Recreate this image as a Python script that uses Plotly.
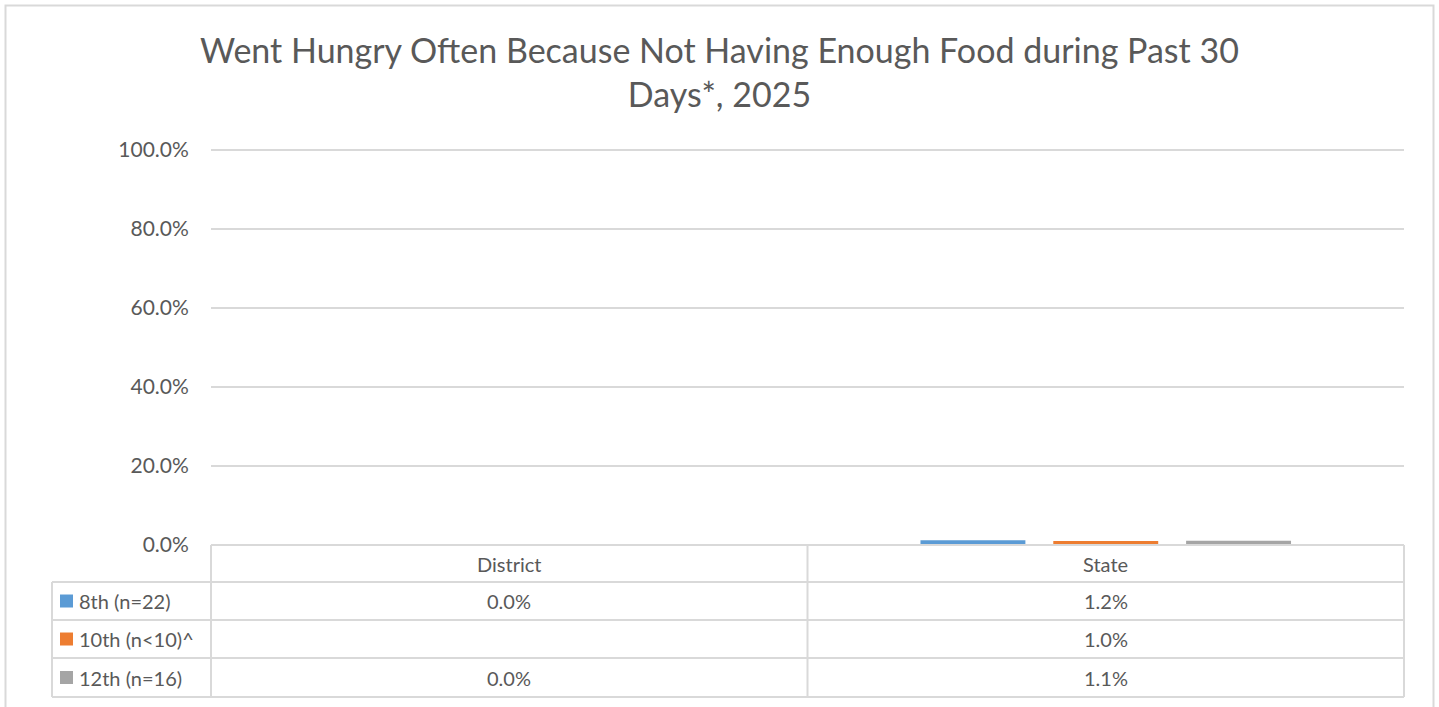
import plotly.graph_objects as go

categories = ["District", "State"]
series_names = ["8th (n=22)", "10th (n<10)^", "12th (n=16)"]
values_8th = [0.0, 0.012]
values_10th = [None, 0.010]
values_12th = [0.0, 0.011]
series_values = [values_8th, values_10th, values_12th]
colors = ["#5B9BD5", "#ED7D31", "#A5A5A5"]
y_ticks = [0, 0.2, 0.4, 0.6, 0.8, 1.0]

TEXT = "#595959"
GRID = "#D9D9D9"
FONT = "Lato"

W, H = 1439, 707
YMAX = 1.01
L, R, B = 211, 1404, 545  # plot area in px
T = B - 395 * YMAX


def px_x(p):
    return (p - L) / (R - L)


def px_y(p):
    return (B - p) / (B - T)


fig = go.Figure()
for name, vals, col in zip(series_names, series_values, colors):
    fig.add_trace(go.Bar(x=categories, y=vals, name=name, marker_color=col,
                         marker_line_width=0, showlegend=False))

shapes = []
annotations = []

# table lines
row_lines = [582, 620, 658, 697]
shapes.append(dict(type="line", xref="paper", yref="paper", x0=px_x(L), x1=px_x(R),
                   y0=px_y(545), y1=px_y(545), line=dict(color=GRID, width=2)))
for ry in row_lines:
    shapes.append(dict(type="line", xref="paper", yref="paper", x0=px_x(52), x1=px_x(R),
                       y0=px_y(ry), y1=px_y(ry), line=dict(color=GRID, width=2)))
for vx, top in [(52, 582), (L, 545), (807.5, 545), (R, 545)]:
    shapes.append(dict(type="line", xref="paper", yref="paper", x0=px_x(vx), x1=px_x(vx),
                       y0=px_y(top), y1=px_y(697), line=dict(color=GRID, width=2)))

# outer chart frame
shapes.append(dict(type="rect", xref="paper", yref="paper", x0=px_x(5.5), x1=px_x(1433.5),
                   y0=px_y(715), y1=px_y(5.5), line=dict(color=GRID, width=2),
                   fillcolor="rgba(0,0,0,0)", layer="below"))

# header row
for c in categories:
    annotations.append(dict(x=c, xref="x", y=px_y(563.5), yref="paper", text=c,
                            showarrow=False, font=dict(family=FONT, size=20, color=TEXT),
                            xanchor="center", yanchor="middle"))

row_centers = [601, 639, 677.5]
for name, vals, col, rc in zip(series_names, series_values, colors, row_centers):
    shapes.append(dict(type="rect", xref="paper", yref="paper", x0=px_x(60), x1=px_x(73),
                       y0=px_y(rc + 6.5), y1=px_y(rc - 6.5), fillcolor=col, line_width=0))
    annotations.append(dict(x=px_x(77), xref="paper", y=px_y(rc), yref="paper", text=name,
                            showarrow=False, font=dict(family=FONT, size=20, color=TEXT),
                            xanchor="left", yanchor="middle"))
    for c, v in zip(categories, vals):
        if v is None:
            continue
        annotations.append(dict(x=c, xref="x", y=px_y(rc), yref="paper", text=f"{v*100:.1f}%",
                                showarrow=False, font=dict(family=FONT, size=20, color=TEXT),
                                xanchor="center", yanchor="middle"))

fig.update_layout(
    width=W, height=H,
    margin=dict(l=L, r=W - R, t=T, b=H - B, pad=0),
    paper_bgcolor="white", plot_bgcolor="white",
    barmode="group", bargap=0.332, bargroupgap=0.21,
    title=dict(text="Went Hungry Often Because Not Having Enough Food during Past 30<br>Days*, 2025",
               x=0.5, xref="container", xanchor="center", y=1 - 63 / H, yref="container",
               yanchor="top", font=dict(family=FONT, size=34, color=TEXT)),
    font=dict(family=FONT, color=TEXT),
    shapes=shapes, annotations=annotations,
    xaxis=dict(showticklabels=False, showgrid=False, showline=False, zeroline=False,
               ticks="", fixedrange=True),
    yaxis=dict(range=[0, YMAX], tickvals=y_ticks, tickformat=".1%", showgrid=True,
               gridcolor=GRID, gridwidth=2, zeroline=False, showline=False,
               ticks="outside", ticklen=17, tickcolor="rgba(0,0,0,0)",
               tickfont=dict(family=FONT, size=21, color=TEXT)),
)

fig.write_html("out.html", config={"displayModeBar": False},
               post_script="document.body.style.margin='0';document.body.style.overflow='hidden';")
